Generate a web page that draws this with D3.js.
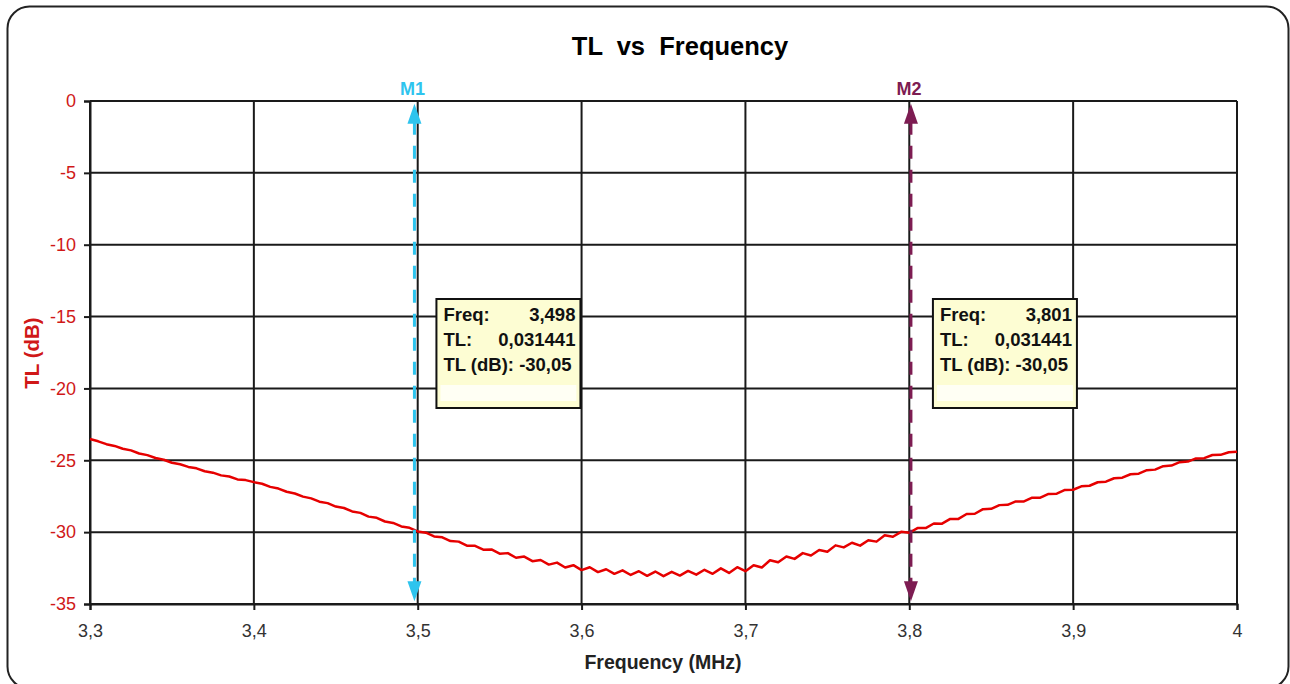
<!DOCTYPE html>
<html>
<head>
<meta charset="utf-8">
<script src="https://cdn.jsdelivr.net/npm/d3@7"></script>
<style>
  body { margin: 0; background: #fff; }
  svg text { font-family: "Liberation Sans", Arial, sans-serif; }
</style>
</head>
<body>
<svg width="1290" height="684"></svg>
<script>
// values
var freqTicks = [3.3, 3.4, 3.5, 3.6, 3.7, 3.8, 3.9, 4.0];
var dbTicks = [0, -5, -10, -15, -20, -25, -30, -35];

var tlData = [
  [3.300, -23.52], [3.305, -23.68], [3.310, -23.88], [3.315, -24.00], [3.320, -24.20],
  [3.325, -24.31], [3.330, -24.53], [3.335, -24.64], [3.340, -24.84], [3.345, -24.96],
  [3.350, -25.17], [3.355, -25.28], [3.360, -25.46], [3.365, -25.56], [3.370, -25.76],
  [3.375, -25.86], [3.380, -26.05], [3.385, -26.13], [3.390, -26.33], [3.395, -26.38],
  [3.400, -26.52], [3.405, -26.63], [3.410, -26.85], [3.415, -26.97], [3.420, -27.19],
  [3.425, -27.31], [3.430, -27.53], [3.435, -27.65], [3.440, -27.88], [3.445, -27.98],
  [3.450, -28.22], [3.455, -28.32], [3.460, -28.56], [3.465, -28.66], [3.470, -28.92],
  [3.475, -29.00], [3.480, -29.26], [3.485, -29.36], [3.490, -29.60], [3.495, -29.70],
  [3.500, -29.95], [3.505, -30.04], [3.510, -30.30], [3.515, -30.36], [3.520, -30.62],
  [3.525, -30.66], [3.530, -30.94], [3.535, -30.95], [3.540, -31.22], [3.545, -31.20],
  [3.550, -31.50], [3.555, -31.46], [3.560, -31.78], [3.565, -31.70], [3.570, -32.02],
  [3.575, -31.94], [3.580, -32.26], [3.585, -32.12], [3.590, -32.46], [3.595, -32.30],
  [3.600, -32.64], [3.605, -32.44], [3.610, -32.78], [3.615, -32.58], [3.620, -32.90],
  [3.625, -32.66], [3.630, -32.98], [3.635, -32.72], [3.640, -33.04], [3.645, -32.74],
  [3.650, -33.06], [3.655, -32.76], [3.660, -33.02], [3.665, -32.70], [3.670, -32.96],
  [3.675, -32.62], [3.680, -32.90], [3.685, -32.52], [3.690, -32.84], [3.695, -32.44],
  [3.700, -32.72], [3.705, -32.30], [3.710, -32.46], [3.715, -31.96], [3.720, -32.10],
  [3.725, -31.70], [3.730, -31.86], [3.735, -31.46], [3.740, -31.62], [3.745, -31.24],
  [3.750, -31.36], [3.755, -30.92], [3.760, -31.06], [3.765, -30.74], [3.770, -30.94],
  [3.775, -30.56], [3.780, -30.66], [3.785, -30.22], [3.790, -30.32], [3.795, -29.98],
  [3.800, -30.04], [3.805, -29.72], [3.810, -29.72], [3.815, -29.40], [3.820, -29.41],
  [3.825, -29.08], [3.830, -29.08], [3.835, -28.74], [3.840, -28.72], [3.845, -28.40],
  [3.850, -28.38], [3.855, -28.12], [3.860, -28.10], [3.865, -27.86], [3.870, -27.86],
  [3.875, -27.60], [3.880, -27.60], [3.885, -27.34], [3.890, -27.32], [3.895, -27.06],
  [3.900, -27.05], [3.905, -26.81], [3.910, -26.77], [3.915, -26.53], [3.920, -26.49],
  [3.925, -26.25], [3.930, -26.21], [3.935, -25.97], [3.940, -25.93], [3.945, -25.69],
  [3.950, -25.65], [3.955, -25.41], [3.960, -25.37], [3.965, -25.13], [3.970, -25.09],
  [3.975, -24.87], [3.980, -24.85], [3.985, -24.63], [3.990, -24.62], [3.995, -24.44],
  [4.000, -24.40]
];

var markerNames = ["M1", "M2"];
var markerFreqs = [3.498, 3.801];
var markerFreqText = ["3,498", "3,801"];
var markerTLText = ["0,031441", "0,031441"];
var markerDbText = ["-30,05", "-30,05"];
var markerColors = ["#2ec4ee", "#7d1c52"];

var svg = d3.select("svg"),
    plotLeft = 90, plotRight = 1237, plotTop = 101, plotBottom = 604;

// outer frame
svg.append("rect")
    .attr("x", 7.5).attr("y", 6.5)
    .attr("width", 1281).attr("height", 682)
    .attr("rx", 22).attr("ry", 22)
    .attr("fill", "#fff")
    .attr("stroke", "#222")
    .attr("stroke-width", 2);

var x = d3.scaleLinear().domain([3.3, 4.0]).range([plotLeft, plotRight]),
    y = d3.scaleLinear().domain([-35, 0]).range([plotBottom, plotTop]);

var fmt = function(d) { return d3.format(".1f")(d).replace(".", ",").replace(",0", ""); };

// title
svg.append("text")
    .attr("x", 680).attr("y", 55)
    .attr("text-anchor", "middle")
    .attr("font-size", "25.5px")
    .attr("font-weight", "bold")
    .style("white-space", "pre")
    .text("TL  vs  Frequency");

// grid
var g = svg.append("g");
g.selectAll(".vgrid")
    .data(freqTicks)
    .enter().append("line")
    .attr("x1", function(d) { return x(d); })
    .attr("x2", function(d) { return x(d); })
    .attr("y1", plotTop).attr("y2", plotBottom)
    .attr("stroke", "#1a1a1a").attr("stroke-width", 2);
g.selectAll(".hgrid")
    .data(dbTicks)
    .enter().append("line")
    .attr("y1", function(d) { return y(d); })
    .attr("y2", function(d) { return y(d); })
    .attr("x1", plotLeft).attr("x2", plotRight)
    .attr("stroke", "#1a1a1a").attr("stroke-width", 2);

// axes
var xAxis = svg.append("g")
    .attr("transform", "translate(0," + plotBottom + ")")
    .call(d3.axisBottom(x).tickValues(freqTicks).tickFormat(fmt).tickSize(6).tickPadding(14));
xAxis.select(".domain").attr("stroke", "#1a1a1a").attr("stroke-width", 2);
xAxis.selectAll(".tick line").attr("stroke", "#1a1a1a").attr("stroke-width", 2);
xAxis.selectAll("text").attr("font-size", "18px").attr("fill", "#333").attr("font-family", "Liberation Sans, Arial, sans-serif");

var yAxis = svg.append("g")
    .attr("transform", "translate(" + plotLeft + ",0)")
    .call(d3.axisLeft(y).tickValues(dbTicks).tickFormat(function(d) { return d; }).tickSize(6).tickPadding(8));
yAxis.select(".domain").attr("stroke", "#1a1a1a").attr("stroke-width", 2);
yAxis.selectAll(".tick line").attr("stroke", "#1a1a1a").attr("stroke-width", 2);
yAxis.selectAll("text").attr("font-size", "18px").attr("fill", "#d01818").attr("font-family", "Liberation Sans, Arial, sans-serif");

// axis titles
svg.append("text")
    .attr("x", 663).attr("y", 669)
    .attr("text-anchor", "middle")
    .attr("font-size", "19.5px")
    .attr("font-weight", "bold")
    .attr("fill", "#222")
    .text("Frequency (MHz)");

svg.append("text")
    .attr("transform", "translate(39,353) rotate(-90)")
    .attr("text-anchor", "middle")
    .attr("font-size", "20.5px")
    .attr("font-weight", "bold")
    .attr("fill", "#d01818")
    .text("TL (dB)");

// curve
var line = d3.line()
    .x(function(d) { return x(d[0]); })
    .y(function(d) { return y(d[1]); });

svg.append("path")
    .datum(tlData)
    .attr("fill", "none")
    .attr("stroke", "#e60000")
    .attr("stroke-width", 2.5)
    .attr("stroke-linejoin", "round")
    .attr("d", line);

// markers
markerNames.forEach(function(name, i) {
    var mx = x(markerFreqs[i]),
        col = markerColors[i],
        yTip1 = y(-0.2), yTip2 = y(-34.8);

    svg.append("line")
        .attr("x1", mx).attr("x2", mx)
        .attr("y1", yTip1 + 18).attr("y2", yTip2 - 18)
        .attr("stroke", col)
        .attr("stroke-width", 3)
        .attr("stroke-dasharray", "13,11");

    svg.append("path")
        .attr("d", "M" + mx + "," + yTip1 + "L" + (mx - 7) + "," + (yTip1 + 20) + "L" + (mx + 7) + "," + (yTip1 + 20) + "Z")
        .attr("fill", col);
    svg.append("path")
        .attr("d", "M" + mx + "," + yTip2 + "L" + (mx - 7) + "," + (yTip2 - 20) + "L" + (mx + 7) + "," + (yTip2 - 20) + "Z")
        .attr("fill", col);

    svg.append("text")
        .attr("x", mx - 2).attr("y", 95)
        .attr("text-anchor", "middle")
        .attr("font-size", "18px")
        .attr("font-weight", "bold")
        .attr("fill", col)
        .text(name);

    // info box
    var bx = mx + 22, by = 299, bw = 144, bh = 109;
    var box = svg.append("g").attr("transform", "translate(" + bx + "," + by + ")");
    box.append("rect")
        .attr("width", bw).attr("height", bh)
        .attr("fill", "#fdfdd3")
        .attr("stroke", "#111")
        .attr("stroke-width", 2);
    box.append("rect")
        .attr("x", 4).attr("y", 86)
        .attr("width", bw - 8).attr("height", 16)
        .attr("fill", "#fff").attr("opacity", 0.75);

    var rows = [["Freq:", markerFreqText[i]], ["TL:", markerTLText[i]]];
    rows.forEach(function(r, j) {
        box.append("text")
            .attr("x", 7).attr("y", 22 + j * 25)
            .attr("font-size", "18.5px").attr("font-weight", "bold").attr("fill", "#111")
            .text(r[0]);
        box.append("text")
            .attr("x", bw - 5).attr("y", 22 + j * 25)
            .attr("text-anchor", "end")
            .attr("font-size", "18.5px").attr("font-weight", "bold").attr("fill", "#111")
            .text(r[1]);
    });
    box.append("text")
        .attr("x", 7).attr("y", 72)
        .attr("font-size", "18.5px").attr("font-weight", "bold").attr("fill", "#111")
        .text("TL (dB): " + markerDbText[i]);
});
</script>
</body>
</html>
